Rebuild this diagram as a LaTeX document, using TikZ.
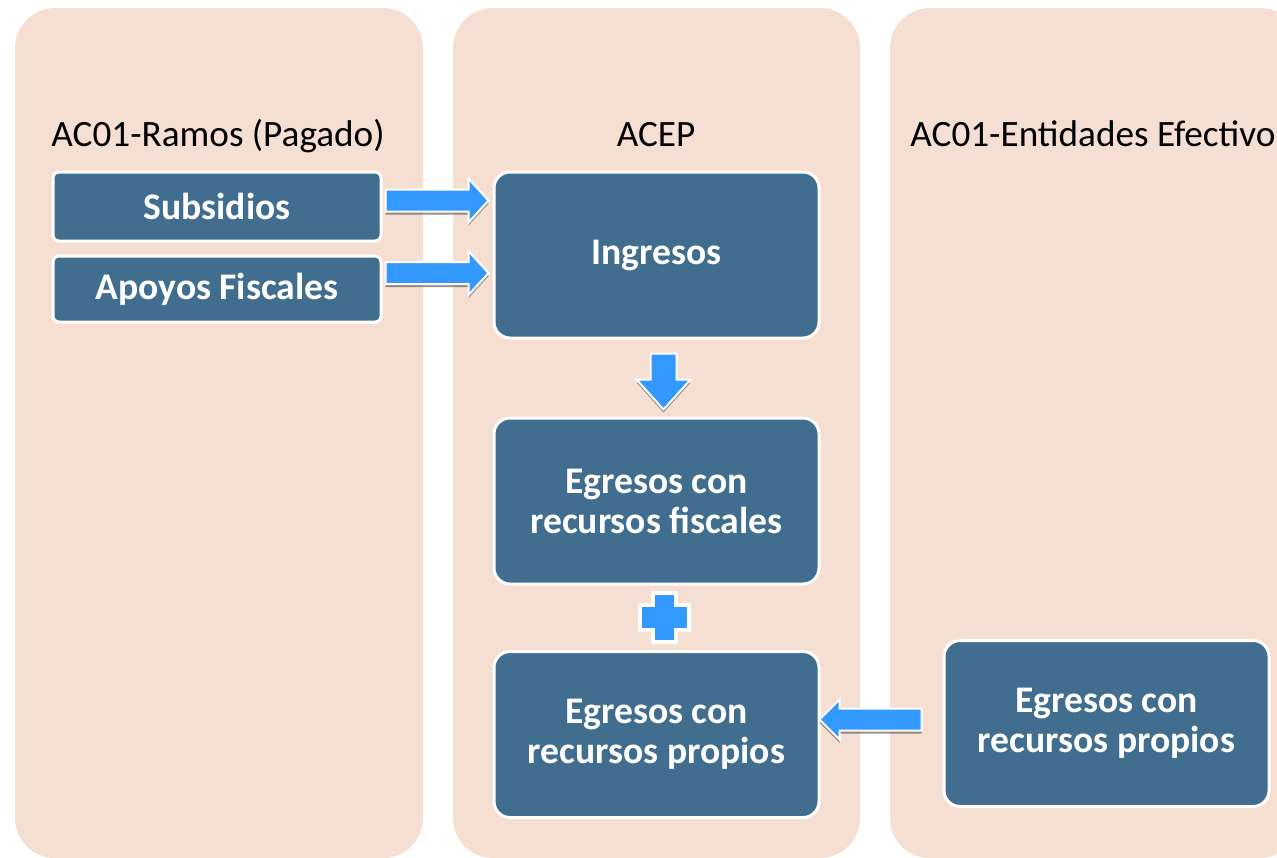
\documentclass[tikz,border=0pt]{standalone}
\usepackage{fontspec}
\setmainfont{Carlito}
\usepackage{tikz}
\usetikzlibrary{positioning,calc}

\definecolor{panelbg}{HTML}{F5DFD3}
\definecolor{boxblue}{HTML}{416E8E}
\definecolor{arrowblue}{HTML}{3399FF}

\tikzset{
  panel/.style={fill=panelbg, draw=none, rounded corners=20pt},
  title/.style={font=\fontsize{18.6}{20}\selectfont, text=black, anchor=base},
  smallbox/.style={fill=boxblue, draw=white, line width=1.5pt, rounded corners=3pt,
    minimum width=164pt, text=white, font=\bfseries\fontsize{18.8}{20}\selectfont},
  bigbox/.style={fill=boxblue, draw=white, line width=1.5pt, rounded corners=8pt,
    minimum width=162.5pt, minimum height=83pt, text=white, align=center,
    font=\bfseries\fontsize{18.8}{20}\selectfont},
  arrowfill/.style={fill=arrowblue, draw=white, line width=1pt, line join=miter},
  arrowshadow/.style={fill=black!70, opacity=0.6, draw=none}
}

% block arrow: start, angle, length, head length, shaft half width, head half width
\newcommand{\blockarrow}[6]{
  \begin{scope}[shift={#1}, yshift=-1.5pt, rotate=#2]
    \fill[arrowshadow] (0,-#5) -- ({#3-#4},-#5) -- ({#3-#4},-#6) -- (#3,0)
      -- ({#3-#4},#6) -- ({#3-#4},#5) -- (0,#5) -- cycle;
  \end{scope}
  \begin{scope}[shift={#1}, rotate=#2]
    \filldraw[arrowfill] (0,-#5) -- ({#3-#4},-#5) -- ({#3-#4},-#6) -- (#3,0)
      -- ({#3-#4},#6) -- ({#3-#4},#5) -- (0,#5) -- cycle;
  \end{scope}
}

\begin{document}
\begin{tikzpicture}[x=0.5pt, y=-0.5pt]
  \useasboundingbox (0,0) rectangle (1277,857);
  \begin{scope}
    \clip (0,0) rectangle (1277,857);
    % columns
    \fill[panel] (15,8) rectangle (423,858);
    \fill[panel] (453,8) rectangle (860,858);
    \fill[panel] (890,8) rectangle (1300,858);
  \end{scope}

  % column titles
  \node[title] (tramos) at (218,146) {AC01-Ramos (Pagado)};
  \node[title] (tacep) at (656,146) {ACEP};
  \node[title, anchor=base west, inner xsep=0pt] (tent) at (910,146) {AC01-Entidades Efectivo};

  % boxes
  \node[smallbox, minimum height=34.5pt] (sub) at (217,206.5) {Subsidios};
  \node[smallbox, minimum height=33pt] (apo) at (217,289) {Apoyos Fiscales};
  \node[bigbox] (ing) at (656.5,255) {Ingresos};
  \node[bigbox] (egf) at (656.5,501) {Egresos con\\recursos fiscales};
  \node[bigbox] (egp) at (656.5,734.5) {Egresos con\\recursos propios};
  \node[bigbox] (egr) at (1106.5,723.5) {Egresos con\\recursos propios};

  % arrows
  \blockarrow{($(sub.east)+(3,-6)$)}{0}{103}{20}{11}{22}
  \blockarrow{($(apo.east)+(3,-16)$)}{0}{103}{20}{11}{22}
  \blockarrow{($(ing.south)+(7,14)$)}{-90}{56}{30}{13}{27}
  \blockarrow{($(egr.west)+(-21,-4)$)}{180}{102}{20}{11}{20}

  % plus sign
  \coordinate (plus) at ($(egf.south)!0.5!(egp.north)+(8,0)$);
  \filldraw[arrowfill, line width=2pt, shift={(plus)}]
    (-11.5,-24.5) -- (11.5,-24.5) -- (11.5,-12.5) -- (24.5,-12.5) -- (24.5,12.5)
    -- (11.5,12.5) -- (11.5,24.5) -- (-11.5,24.5) -- (-11.5,12.5) -- (-24.5,12.5)
    -- (-24.5,-12.5) -- (-11.5,-12.5) -- cycle;
\end{tikzpicture}
\end{document}
